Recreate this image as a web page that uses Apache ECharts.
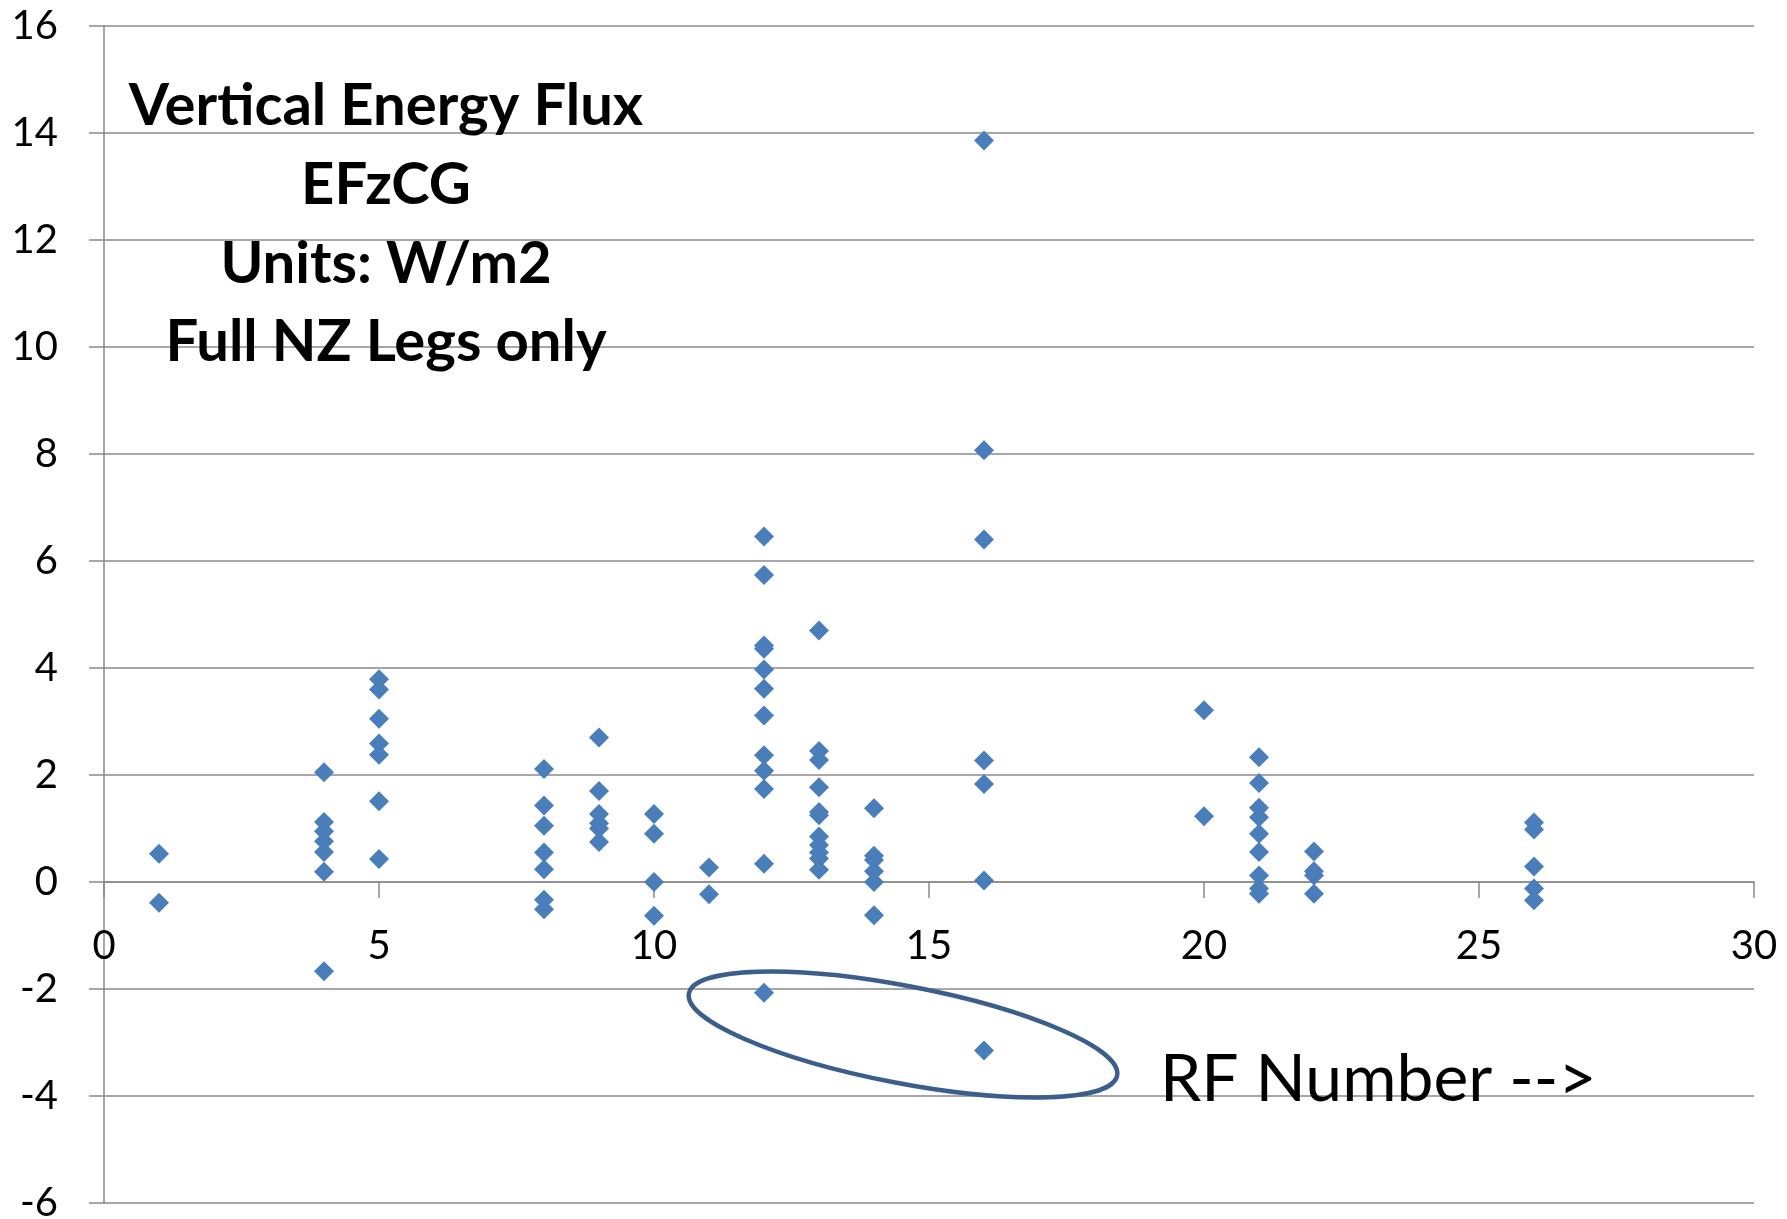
<!DOCTYPE html>
<html>
<head>
<meta charset="utf-8">
<script src="https://cdn.jsdelivr.net/npm/echarts@6/dist/echarts.min.js"></script>
<style>
html,body{margin:0;padding:0;background:#fff;}
#chart{width:1787px;height:1219px;}
</style>
</head>
<body>
<div id="chart"></div>
<script>
// RF (research flight) numbers and the EFzCG values observed on each flight
const rfNumbers = [1, 4, 5, 8, 9, 10, 11, 12, 13, 14, 16, 20, 21, 22, 26];
const rf1  = [0.53, -0.39];
const rf4  = [2.05, 1.12, 0.95, 0.76, 0.56, 0.19, -1.67];
const rf5  = [3.79, 3.60, 3.05, 2.59, 2.38, 1.51, 0.43];
const rf8  = [2.11, 1.43, 1.05, 0.55, 0.24, -0.33, -0.51];
const rf9  = [2.70, 1.70, 1.27, 1.10, 1.00, 0.75];
const rf10 = [1.27, 0.90, 0.00, -0.63];
const rf11 = [0.27, -0.23];
const rf12 = [6.46, 5.74, 4.42, 4.36, 3.97, 3.61, 3.11, 2.37, 2.08, 1.74, 0.34, -2.07];
const rf13 = [4.70, 2.45, 2.28, 1.77, 1.31, 1.25, 0.85, 0.69, 0.55, 0.44, 0.23];
const rf14 = [1.38, 0.49, 0.41, 0.20, 0.00, -0.62];
const rf16 = [13.86, 8.07, 6.40, 2.27, 1.83, 0.03, -3.15];
const rf20 = [3.21, 1.23];
const rf21 = [2.33, 1.85, 1.39, 1.21, 0.90, 0.56, 0.12, -0.12, -0.22];
const rf22 = [0.57, 0.20, 0.12, -0.22];
const rf26 = [1.11, 0.98, 0.29, -0.12, -0.34];
const valuesByRF = [rf1, rf4, rf5, rf8, rf9, rf10, rf11, rf12, rf13, rf14, rf16, rf20, rf21, rf22, rf26];

const titleLines = ['Vertical Energy Flux', 'EFzCG', 'Units: W/m2', 'Full NZ Legs only'];
const axisNote = 'RF Number -->';

const yMin = -6, yMax = 16;

const points = [];
rfNumbers.forEach((rf, i) => valuesByRF[i].forEach(v => points.push([rf, v])));

const chart = echarts.init(document.getElementById('chart'), null, {renderer: 'canvas'});
const gridColor = '#8a8a8a';
const font = 'Lato';
const gridTop = 26, gridBottom = 16, H = 1219;
// x axis crosses the value axis at y = 0: shift it up from the bottom edge by the height of the negative part
const plotH = H - gridTop - gridBottom;
const zeroOffset = -plotH * (0 - yMin) / (yMax - yMin);

const titleY = [106, 185, 264, 342];
chart.setOption({
  animation: false,
  backgroundColor: '#ffffff',
  grid: {left: 104, right: 33, top: gridTop, bottom: gridBottom, containLabel: false, outerBoundsMode: 'none'},
  xAxis: {
    type: 'value', min: 0, max: 30, interval: 5,
    position: 'bottom', offset: zeroOffset,
    axisLine: {onZero: false, lineStyle: {color: gridColor, width: 1.5}},
    axisTick: {show: true, inside: false, length: 16, lineStyle: {color: gridColor, width: 1.5}},
    axisLabel: {color: '#000', fontFamily: font, fontSize: 40, margin: 44},
    splitLine: {show: false}
  },
  yAxis: {
    type: 'value', min: yMin, max: yMax, interval: 2,
    axisLine: {show: true, onZero: false, lineStyle: {color: gridColor, width: 1.5}},
    axisTick: {show: true, inside: false, length: 15, lineStyle: {color: gridColor, width: 1.5}},
    axisLabel: {color: '#000', fontFamily: font, fontSize: 40, margin: 46},
    splitLine: {show: true, lineStyle: {color: gridColor, width: 1.5}}
  },
  series: [{
    type: 'scatter',
    symbol: 'diamond',
    symbolSize: 20,
    itemStyle: {color: '#4A7EBB', opacity: 1},
    data: points
  }],
  graphic: [
    ...titleLines.map((t, i) => ({
      type: 'text', x: 386, y: titleY[i], z: 100,
      style: {text: t, fill: '#000', font: 'bold 58px Lato', textAlign: 'center', textVerticalAlign: 'middle'}
    })),
    {
      type: 'text', x: 1160, y: 1080, z: 100,
      style: {text: axisNote, fill: '#000', font: '66px Lato', textAlign: 'left', textVerticalAlign: 'middle'}
    },
    {
      type: 'ellipse', x: 903, y: 1034.5, rotation: -0.1894, z: 100,
      shape: {cx: 0, cy: 0, rx: 218, ry: 48.6},
      style: {fill: 'none', stroke: '#3B5E8C', lineWidth: 4.5}
    }
  ]
});
</script>
</body>
</html>
